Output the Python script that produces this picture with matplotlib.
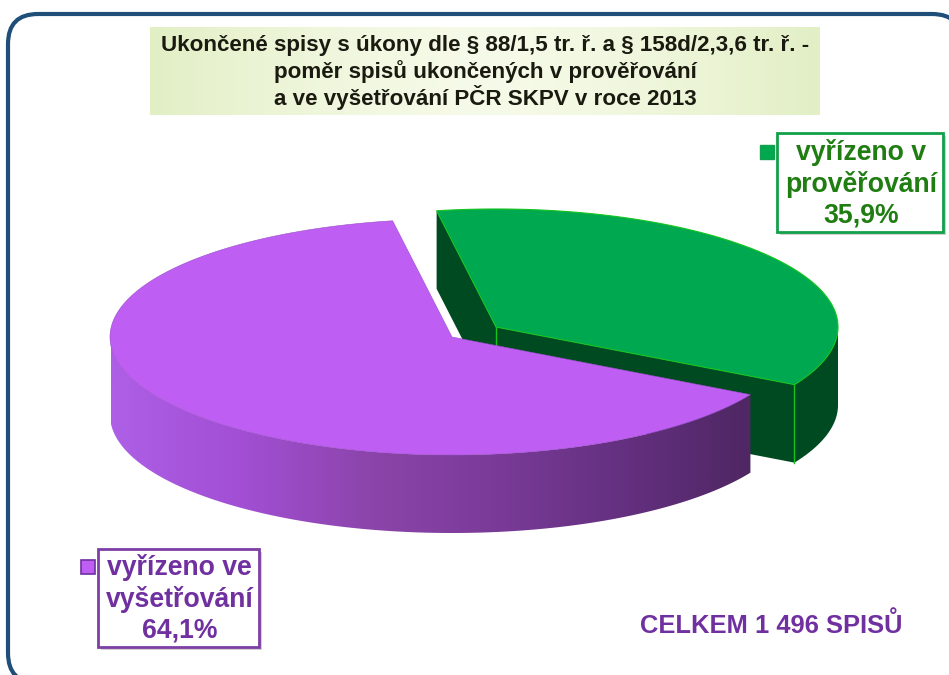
import numpy as np
import matplotlib
matplotlib.use('Agg')
import matplotlib.pyplot as plt
from matplotlib.colors import LinearSegmentedColormap
from matplotlib.patches import FancyBboxPatch, Polygon, Rectangle

title_lines = ['Ukončené spisy s úkony dle § 88/1,5 tr. ř. a § 158d/2,3,6 tr. ř. -',
               'poměr spisů ukončených v prověřování',
               'a ve vyšetřování PČR SKPV v roce 2013']
shares = [35.9, 64.1]
share_labels = ['35,9%', '64,1%']
categories = ['vyřízeno v\nprověřování', 'vyřízeno ve\nvyšetřování']
total_label = 'CELKEM 1 496 SPISŮ'

GREEN = '#00a84f'
GREEN_DARK = '#004a22'
GREEN_EDGE = '#13c41f'
PURPLE = '#be5ef2'
PURPLE_TEXT = '#7030a0'

RX, RY, DEPTH = 342, 118, 78
START = 100


def rim(cx, cy, t0, t1, dy=0, n=200):
    t = np.radians(np.linspace(t0, t1, n))
    return np.column_stack([cx + RX * np.cos(t), cy - RY * np.sin(t) + dy])


def label_box(x, y, w, h, edge, text, color):
    # stin pod rameckem
    ax.add_patch(Rectangle((x + 3, y + 3), w, h, fc='#999999', ec='none', alpha=0.45, zorder=5))
    ax.add_patch(Rectangle((x, y), w, h, fc='white', ec=edge, lw=2, zorder=6))
    ax.text(x + w / 2 + 1, y + h / 2 + 1, text, color=color, fontsize=19.2, fontweight='bold',
            ha='center', va='center', linespacing=1.22, zorder=7)


plt.rcParams['font.family'] = ['Liberation Sans', 'DejaVu Sans']
fig = plt.figure(figsize=(9.49, 6.75), dpi=100)
ax = fig.add_axes([0, 0, 1, 1])
ax.set_xlim(0, 949)
ax.set_ylim(675, 0)
ax.axis('off')

# ramecek
ax.add_patch(FancyBboxPatch((8, 14), 954, 669, boxstyle='round,pad=0,rounding_size=30',
                            fc='white', ec='#1f4e79', lw=3, zorder=1))

# titulek
edge_col = np.array([226, 239, 197]) / 255
mid_col = np.array([246, 250, 232]) / 255
w = np.abs(np.linspace(-1, 1, 200))[None, :, None] ** 1.5
ax.imshow(mid_col * (1 - w) + edge_col * w, extent=(150, 820, 115, 27), aspect='auto', zorder=2)
for i, line in enumerate(title_lines):
    ax.text(485, 46 + 26 * i, line, fontsize=16.1, fontweight='bold', color='#1a1a10',
            ha='center', va='center', zorder=3)

# vypocet uhlu z podilu
green_end = START - shares[0] / 100 * 360
purple_end = START + shares[1] / 100 * 360

# zeleny dil
gx, gy = 496, 327
g_top = rim(gx, gy, START, green_end)
ax.add_patch(Polygon([[gx, gy], g_top[0], g_top[0] + [0, DEPTH], [gx, gy + DEPTH]],
                     fc=GREEN_DARK, ec='none', zorder=3))
ax.add_patch(Polygon([[gx, gy], g_top[-1], g_top[-1] + [0, DEPTH], [gx, gy + DEPTH]],
                     fc=GREEN_DARK, ec='none', zorder=3))
side = rim(gx, gy, green_end, 0)
ax.add_patch(Polygon(np.vstack([side, (side + [0, DEPTH])[::-1]]), fc=GREEN_DARK, ec='none', zorder=3))
ax.plot([gx, gx], [gy, gy + DEPTH - 25], color=GREEN_EDGE, lw=1, zorder=3.5)
ax.plot([g_top[-1][0]] * 2, [g_top[-1][1], g_top[-1][1] + DEPTH], color=GREEN_EDGE, lw=1, zorder=3.5)
ax.add_patch(Polygon(np.vstack([[gx, gy], g_top]), fc=GREEN, ec=GREEN_EDGE, lw=0.8, zorder=3.6))

# fialovy dil
px, py = 452, 337
p_top = rim(px, py, START, purple_end, n=400)
p_side = rim(px, py, 180, purple_end, n=300)
side_poly = Polygon(np.vstack([p_side, (p_side + [0, DEPTH])[::-1]]), fc='none', ec='none', zorder=4)
ax.add_patch(side_poly)
grad = LinearSegmentedColormap.from_list('side', ['#ad5fe6', '#a24fd4', '#8c45ab', '#7a3b98',
                                                  '#643080', '#4f2763'])
img = ax.imshow(np.linspace(0, 1, 300)[None, :], cmap=grad, extent=(111, 752, 545, 330),
                aspect='auto', zorder=4)
img.set_clip_path(side_poly)
ax.add_patch(Polygon(np.vstack([[px, py], p_top]), fc=PURPLE, ec='#9a4cc8', lw=0.4, zorder=4.5))
ax.set_xlim(0, 949)
ax.set_ylim(675, 0)

# popisky
ax.add_patch(Rectangle((760, 145), 14, 14, fc=GREEN, ec='#13a04a', lw=1, zorder=5))
label_box(777, 133, 166, 99, '#12a04a', categories[0] + '\n' + share_labels[0], '#1f7d12')
ax.add_patch(Rectangle((81, 560), 14, 14, fc=PURPLE, ec=PURPLE_TEXT, lw=1.2, zorder=5))
label_box(98, 549, 161, 98, '#7d3fa5', categories[1] + '\n' + share_labels[1], PURPLE_TEXT)

ax.text(771, 625, total_label, color=PURPLE_TEXT, fontsize=18.4, fontweight='bold',
        ha='center', va='center', zorder=5)

fig.savefig('out.png', dpi=100)
